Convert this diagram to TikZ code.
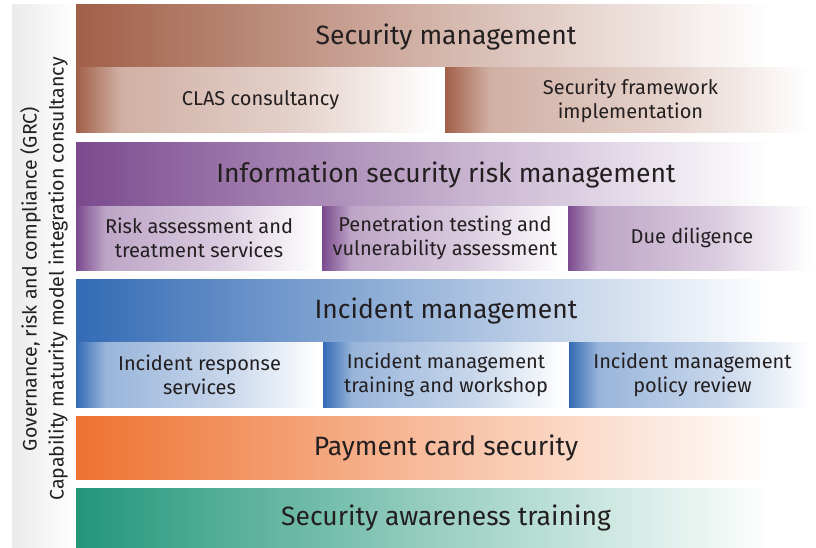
\documentclass[tikz,border=0pt]{standalone}
\usepackage{fontspec}
\setmainfont{Fira Sans}

\definecolor{smbrown}{HTML}{A15F48}
\definecolor{rmpurple}{HTML}{7B4A8E}
\definecolor{imblue}{HTML}{336BB5}
\definecolor{pcorange}{HTML}{EE7230}
\definecolor{atgreen}{HTML}{23977A}
\definecolor{txt}{HTML}{231F20}

% shadings for one band: header row and sub cells
\newcommand\mkshades[2]{%
  \pgfdeclarehorizontalshading{#1head}{100bp}{color(0bp)=(#2); color(25bp)=(#2);
    color(50bp)=(#2!45); color(72bp)=(white); color(100bp)=(white)}%
  \pgfdeclarehorizontalshading{#1cell}{100bp}{color(0bp)=(#2); color(25bp)=(#2);
    color(31bp)=(#2!50); color(55bp)=(#2!28); color(74bp)=(white); color(100bp)=(white)}}
\mkshades{sm}{smbrown}
\mkshades{rm}{rmpurple}
\mkshades{im}{imblue}
\mkshades{pc}{pcorange}
\mkshades{at}{atgreen}
\pgfdeclarehorizontalshading{grcbar}{100bp}{color(0bp)=(gray!16); color(25bp)=(gray!16);
  color(75bp)=(white); color(100bp)=(white)}

\begin{document}
\begin{tikzpicture}[x=1pt,y=-1pt]
  \tikzset{box/.style={inner sep=0pt,outer sep=0pt,text=txt,align=center},
    head/.style={box,minimum width=740pt,minimum height=63pt,font=\fontsize{26.5}{30}\selectfont},
    cell/.style={box,minimum height=65pt,font=\fontsize{20}{24}\selectfont}}
  \useasboundingbox (0,0) rectangle (816,548);
  % left bar
  \node[box,shading=grcbar,minimum width=63pt,minimum height=543pt] (grc) at (43.5,276.5) {};
  \node[box,rotate=90,font=\fontsize{19.5}{27}\selectfont] (grctext) at (44,279) {Governance, risk and compliance (GRC)\\Capability maturity model integration consultancy};
  % security management
  \node[head,shading=smhead] (sm) at (446,36.5) {Security management};
  \node[cell,shading=smcell,minimum width=369pt] (clas) at (260.5,100.5) {CLAS consultancy};
  \node[cell,shading=smcell,minimum width=371pt] (sfi) at (630.5,100.5) {Security framework\\implementation};
  % risk management
  \node[head,shading=rmhead] (rm) at (446,174.5) {Information security risk management};
  \node[cell,shading=rmcell,minimum width=246pt,minimum height=64pt] (rats) at (199,238) {Risk assessment and\\treatment services};
  \node[cell,shading=rmcell,minimum width=246pt,minimum height=64pt] (ptva) at (445,238) {Penetration testing and\\vulnerability assessment};
  \node[cell,shading=rmcell,minimum width=248pt,minimum height=64pt] (dd) at (692,238) {Due diligence};
  % incident management
  \node[head,shading=imhead] (im) at (446,310.5) {Incident management};
  \node[cell,shading=imcell,minimum width=247pt] (irs) at (199.5,374.5) {Incident response\\services};
  \node[cell,shading=imcell,minimum width=246pt] (imtw) at (446,374.5) {Incident management\\training and workshop};
  \node[cell,shading=imcell,minimum width=247pt] (impr) at (692.5,374.5) {Incident management\\policy review};
  % single rows
  \node[head,shading=pchead] (pc) at (446,447.5) {Payment card security};
  \node[head,shading=athead,minimum height=60pt] (at) at (446,518) {Security awareness training};
\end{tikzpicture}
\end{document}
